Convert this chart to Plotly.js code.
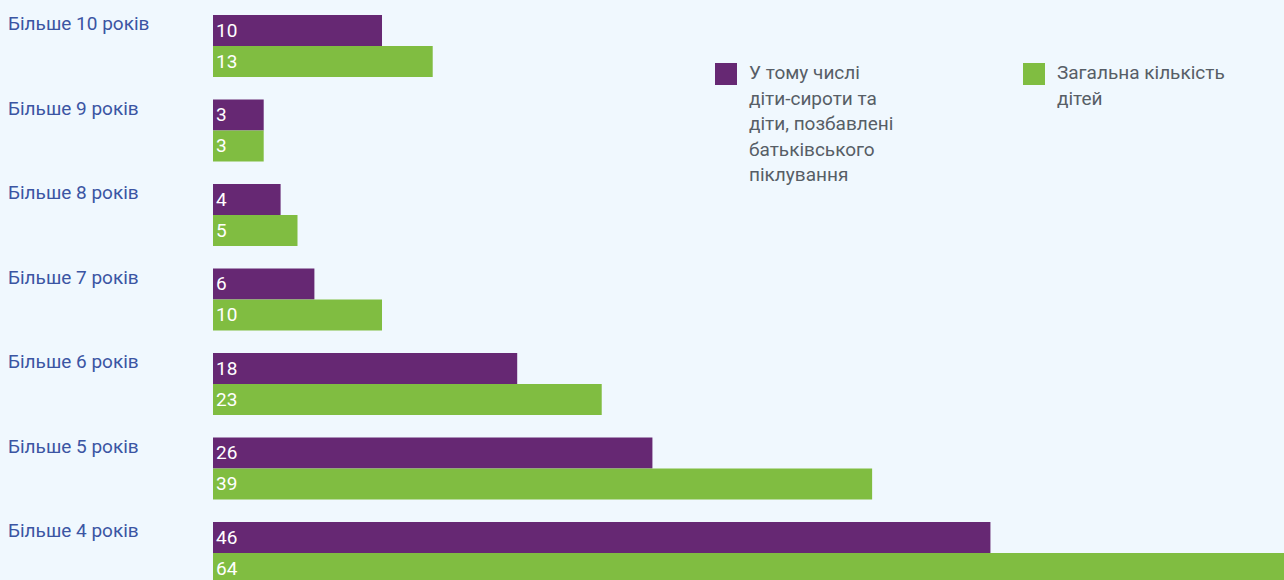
<!DOCTYPE html>
<html>
<head>
<meta charset="utf-8">
<script src="https://cdn.plot.ly/plotly-3.0.1.min.js"></script>
<style>html,body{margin:0;padding:0;background:#f0f8fe;}#chart{width:1284px;height:580px;}</style>
</head>
<body>
<div id="chart"></div>
<script>
// ---- data ----
const categories = ["Більше 10 років", "Більше 9 років", "Більше 8 років", "Більше 7 років", "Більше 6 років", "Більше 5 років", "Більше 4 років"];
const orphans = [10, 3, 4, 6, 18, 26, 46];
const total = [13, 3, 5, 10, 23, 39, 64];
const orphansLegend = ["У тому числі", "діти-сироти та", "діти, позбавлені", "батьківського", "піклування"];
const totalLegend = ["Загальна кількість", "дітей"];

// ---- style ----
const W = 1284, H = 580, ML = 213;
const purple = "#662873", green = "#80bd41", bg = "#f0f8fe";
const labelBlue = "#3b55a3", legendGray = "#575e66";
const FONT = "Roboto, 'Open Sans', sans-serif";
const px2x = p => (p - ML) / (W - ML);
const py2y = p => 1 - p / H;

const traces = [
  {type: "bar", orientation: "h", y: categories, x: orphans, name: orphansLegend.join(" "),
   marker: {color: purple}, text: orphans.map(String), textposition: "inside", insidetextanchor: "start",
   textfont: {color: "#ffffff", size: 19, family: FONT}, hoverinfo: "x+y"},
  {type: "bar", orientation: "h", y: categories, x: total, name: totalLegend.join(" "),
   marker: {color: green}, text: total.map(String), textposition: "inside", insidetextanchor: "start",
   textfont: {color: "#ffffff", size: 19, family: FONT}, hoverinfo: "x+y"}
];

const annotations = [];
categories.forEach(c => annotations.push({
  xref: "paper", yref: "y", x: px2x(6), y: c, xanchor: "left", yanchor: "middle", yshift: 22,
  text: c, showarrow: false, font: {family: FONT, size: 19, color: labelBlue}
}));
function legendText(lines, xpx) {
  lines.forEach((t, i) => annotations.push({
    xref: "paper", yref: "paper", x: px2x(xpx), y: py2y(72.5 + i * 25.5), xanchor: "left", yanchor: "middle",
    text: t, showarrow: false, font: {family: FONT, size: 19, color: legendGray}
  }));
}
legendText(orphansLegend, 747);
legendText(totalLegend, 1055);

const shapes = [
  {type: "rect", xref: "paper", yref: "paper", x0: px2x(715), x1: px2x(737), y0: py2y(63), y1: py2y(85), fillcolor: purple, line: {width: 0}},
  {type: "rect", xref: "paper", yref: "paper", x0: px2x(1023), x1: px2x(1045), y0: py2y(63), y1: py2y(85), fillcolor: green, line: {width: 0}}
];

const layout = {
  width: W, height: H,
  margin: {l: ML, r: 0, t: 0, b: 0, pad: 0},
  paper_bgcolor: bg, plot_bgcolor: bg,
  barmode: "group", bargap: 0.266, bargroupgap: 0,
  showlegend: false,
  font: {family: FONT},
  xaxis: {range: [0, 63.37], visible: false, fixedrange: true},
  yaxis: {type: "category", range: [6.32, -0.544], visible: false, fixedrange: true},
  annotations: annotations,
  shapes: shapes
};

Plotly.newPlot("chart", traces, layout, {displayModeBar: false, staticPlot: true});
</script>
</body>
</html>
